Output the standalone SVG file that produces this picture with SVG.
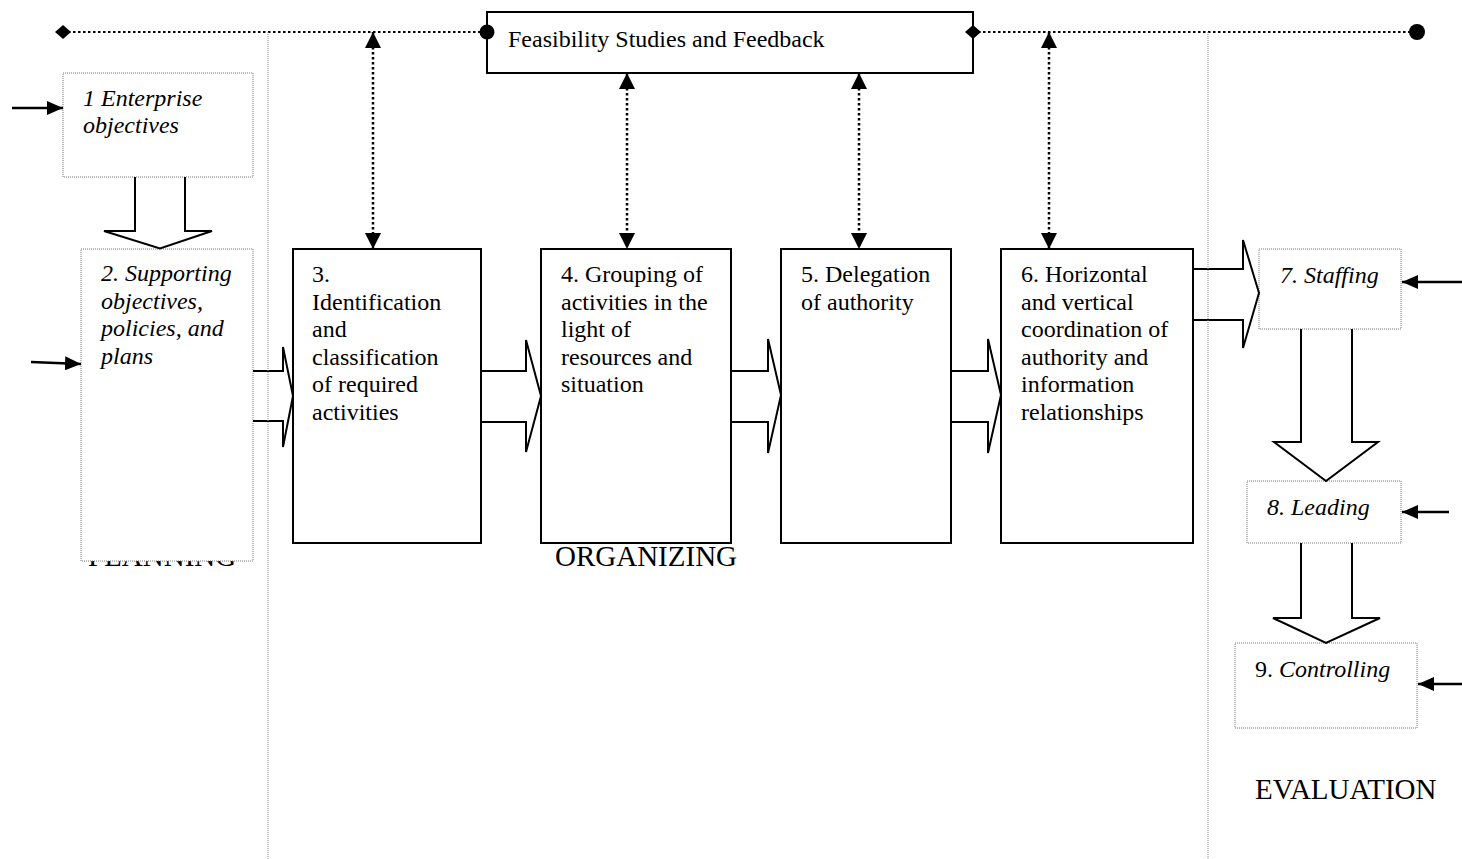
<svg xmlns="http://www.w3.org/2000/svg" width="1462" height="859" viewBox="0 0 1462 859">
<style>
text{font-family:"Liberation Serif","Times New Roman",serif;fill:#000}
.t{font-size:24px}
.i{font-size:24px;font-style:italic}
.big{font-size:29px}
.solid{fill:#fff;stroke:#000;stroke-width:2}
.dot{fill:#fff;stroke:#777;stroke-width:1;stroke-dasharray:1 1}
.sep{fill:none;stroke:#888;stroke-width:1;stroke-dasharray:1 1}
.block{fill:none;stroke:#000;stroke-width:2;stroke-linejoin:miter}
.fb{fill:none;stroke:#000;stroke-width:2.5;stroke-dasharray:2.5 2.5}
.hl{fill:none;stroke:#000;stroke-width:2;stroke-dasharray:2.5 2.5}
.in{fill:none;stroke:#000;stroke-width:2.5}
</style>
<defs>
<marker id="tri" markerUnits="userSpaceOnUse" markerWidth="16" markerHeight="16" viewBox="0 0 16 16" refX="16" refY="8" orient="auto-start-reverse">
<path d="M0,0 L16,8 L0,16 z" fill="#000"/>
</marker>
<marker id="tri2" markerUnits="userSpaceOnUse" markerWidth="16" markerHeight="14" viewBox="0 0 16 14" refX="16" refY="7" orient="auto">
<path d="M0,0 L16,7 L0,14 z" fill="#000"/>
</marker>
</defs>
<rect width="1462" height="859" fill="#fff"/>

<g id="label-planning"><text class="big" x="88" y="566">PLANNING</text></g>

<g id="feasibility">
<rect class="solid" x="487" y="12" width="486" height="61"/>
<text class="t" x="508" y="47">Feasibility Studies and Feedback</text>
</g>

<g id="n1">
<rect class="dot" x="63" y="73" width="190" height="104"/>
<text class="i" x="83" y="106">1 Enterprise</text>
<text class="i" x="83" y="133">objectives</text>
</g>

<g id="n2">
<rect class="dot" x="81" y="249" width="172" height="312"/>
<text class="i" x="101" y="281">2. Supporting</text>
<text class="i" x="101" y="309">objectives,</text>
<text class="i" x="101" y="336">policies, and</text>
<text class="i" x="101" y="364">plans</text>
</g>

<g id="n3">
<rect class="solid" x="293" y="249" width="188" height="294"/>
<text class="t" x="312" y="282">3.</text>
<text class="t" x="312" y="309.5">Identification</text>
<text class="t" x="312" y="337">and</text>
<text class="t" x="312" y="364.5">classification</text>
<text class="t" x="312" y="392">of required</text>
<text class="t" x="312" y="419.5">activities</text>
</g>

<g id="n4">
<rect class="solid" x="541" y="249" width="190" height="294"/>
<text class="t" x="561" y="282">4. Grouping of</text>
<text class="t" x="561" y="309.5">activities in the</text>
<text class="t" x="561" y="337">light of</text>
<text class="t" x="561" y="364.5">resources and</text>
<text class="t" x="561" y="392">situation</text>
</g>

<g id="n5">
<rect class="solid" x="781" y="249" width="170" height="294"/>
<text class="t" x="801" y="282">5. Delegation</text>
<text class="t" x="801" y="309.5">of authority</text>
</g>

<g id="n6">
<rect class="solid" x="1001" y="249" width="192" height="294"/>
<text class="t" x="1021" y="282">6. Horizontal</text>
<text class="t" x="1021" y="309.5">and vertical</text>
<text class="t" x="1021" y="337">coordination of</text>
<text class="t" x="1021" y="364.5">authority and</text>
<text class="t" x="1021" y="392">information</text>
<text class="t" x="1021" y="419.5">relationships</text>
</g>

<g id="n7">
<rect class="dot" x="1259" y="249" width="142" height="80"/>
<text class="i" x="1280" y="283">7. Staffing</text>
</g>

<g id="n8">
<rect class="dot" x="1247" y="481" width="154" height="62"/>
<text class="i" x="1267" y="515">8. Leading</text>
</g>

<g id="n9">
<rect class="dot" x="1235" y="643" width="182" height="85"/>
<text class="t" x="1255" y="677">9. <tspan font-style="italic">Controlling</tspan></text>
</g>

<g id="label-organizing"><text class="big" x="555" y="566">ORGANIZING</text></g>
<g id="label-evaluation"><text class="big" x="1255" y="799">EVALUATION</text></g>

<g id="connectors">
<line class="hl" x1="63" y1="32" x2="487" y2="32"/>
<line class="hl" x1="973" y1="32" x2="1417" y2="32"/>
<path d="M55,32 L63,25 L71,32 L63,39 z" fill="#000"/>
<circle cx="487" cy="32" r="7.5" fill="#000"/>
<path d="M965,32 L973,25 L981,32 L973,39 z" fill="#000"/>
<circle cx="1417" cy="32" r="8" fill="#000"/>
<line class="fb" x1="373" y1="32" x2="373" y2="249" marker-start="url(#tri)" marker-end="url(#tri)"/>
<line class="fb" x1="627" y1="73" x2="627" y2="249" marker-start="url(#tri)" marker-end="url(#tri)"/>
<line class="fb" x1="859" y1="73" x2="859" y2="249" marker-start="url(#tri)" marker-end="url(#tri)"/>
<line class="fb" x1="1049" y1="32" x2="1049" y2="249" marker-start="url(#tri)" marker-end="url(#tri)"/>
<path class="block" d="M135,177 L135,231 L104,231 L160,248.5 L212,231 L185,231 L185,177"/>
<path class="block" d="M253,371 L283,371 L283,347 L293,396 L283,447 L283,421 L253,421"/>
<path class="block" d="M481,371 L526,371 L526,340 L541,396 L526,452 L526,422 L481,422"/>
<path class="block" d="M731,371 L768,371 L768,339 L781,395 L768,453 L768,422 L731,422"/>
<path class="block" d="M951,371 L988,371 L988,339 L1001,395 L988,453 L988,422 L951,422"/>
<path class="block" d="M1193,269 L1243,269 L1243,240 L1259,293 L1243,348 L1243,320 L1193,320"/>
<path class="block" d="M1301,329 L1301,442 L1274,442 L1326,481 L1378,442 L1352,442 L1352,329"/>
<path class="block" d="M1301,543 L1301,618 L1273,618 L1326,643 L1380,618 L1352,618 L1352,543"/>
<line class="in" x1="12" y1="108" x2="63" y2="108" marker-end="url(#tri2)"/>
<line class="in" x1="31" y1="362" x2="81" y2="364" marker-end="url(#tri2)"/>
<line class="in" x1="1462" y1="282" x2="1402" y2="282" marker-end="url(#tri2)"/>
<line class="in" x1="1449" y1="512" x2="1402" y2="512" marker-end="url(#tri2)"/>
<line class="in" x1="1462" y1="684" x2="1418" y2="684" marker-end="url(#tri2)"/>
</g>

<g id="separators">
<line class="sep" x1="268" y1="32" x2="268" y2="859"/>
<line class="sep" x1="1208" y1="32" x2="1208" y2="859"/>
</g>
</svg>
